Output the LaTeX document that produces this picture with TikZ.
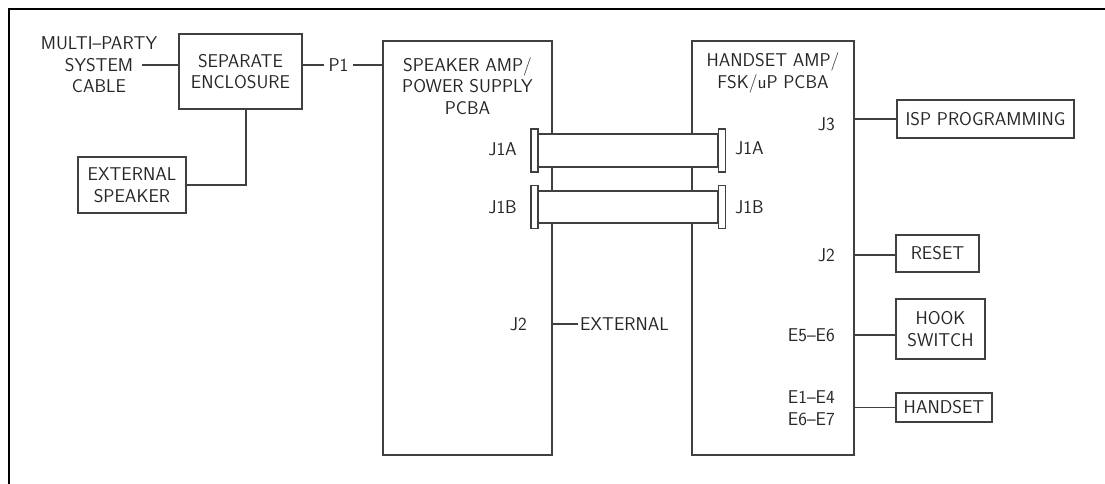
\documentclass[tikz,border=0pt]{standalone}
\usepackage{tikz}
\usetikzlibrary{positioning}

\begin{document}
\begin{tikzpicture}[
		x=1pt, y=-1pt,
		every node/.style={font=\sffamily\fontsize{18.5}{21.5}\selectfont, text=black!85, inner sep=2pt},
		box/.style={draw=black!75, line width=1.1pt, align=center},
		board/.style={draw=black!75, line width=1.1pt, minimum height=414pt},
		capbox/.style={draw=black!75, line width=1.1pt, fill=white, minimum width=7pt, minimum height=43pt, inner sep=0pt},
		ribbon/.style={draw=black!75, line width=1.1pt, fill=white},
		wire/.style={draw=black!75, line width=1.1pt}
	]
	\useasboundingbox (0,0) rectangle (1105,484);
	\draw[line width=2.5pt] (9,484) -- (9,9) -- (1105,9);

	% left side
	\node[align=center] (cable) at (99,65) {MULTI--PARTY\\SYSTEM\\CABLE};
	\coordinate (cableend) at (142,65);
	\node[box, minimum width=123pt, minimum height=75pt] (encl) at (240.5,71.5) {SEPARATE\\ENCLOSURE};
	\node[box, minimum width=108pt, minimum height=56pt] (extspk) at (132,185) {EXTERNAL\\SPEAKER};
	\node[inner sep=4pt] (p1) at (338.5,65) {P1};

	% the two boards
	\node[board, minimum width=169pt] (spk) at (467.5,248) {};
	\node[board, minimum width=162pt] (hs) at (773,248) {};
	\node[align=center] (spktitle) at (467.5,86) {SPEAKER AMP/\\POWER SUPPLY\\PCBA};
	\node[align=center] (hstitle) at (773,73) {HANDSET AMP/\\FSK/uP PCBA};

	% speaker board pins
	\node[anchor=east] (sj1a) at (519,149) {J1A};
	\node[anchor=east] (sj1b) at (519,207) {J1B};
	\node[anchor=east] (sj2) at (529,324) {J2};
	\node[anchor=west] (ext) at (578,324) {EXTERNAL};

	% handset board pins
	\node[anchor=west] (hj1a) at (733,148) {J1A};
	\node[anchor=west] (hj1b) at (733,207) {J1B};
	\node[anchor=east] (hj3) at (837,124) {J3};
	\node[anchor=east] (hj2) at (837,255) {J2};
	\node[anchor=east] (he56) at (837,335) {E5--E6};
	\node[anchor=east, align=right] (he17) at (837,408) {E1--E4\\E6--E7};

	% right side boxes
	\node[box, minimum width=177pt, minimum height=38pt, inner sep=0pt] (isp) at (985.5,119) {ISP PROGRAMMING};
	\node[box, minimum width=83pt, minimum height=37pt] (reset) at (937.5,253.5) {RESET};
	\node[box, minimum width=89pt, minimum height=60pt] (hook) at (940.5,329) {HOOK\\SWITCH};
	\node[box, minimum width=96pt, minimum height=29pt] (hset) at (944,407.5) {HANDSET};

	% ribbon cables
	\node[capbox] (acapl) at (534.5,150.5) {};
	\node[capbox] (acapr) at (722,150.5) {};
	\node[capbox] (bcapl) at (534.5,207) {};
	\node[capbox] (bcapr) at (722,207) {};
	\draw[ribbon] ([yshift=16.5pt]acapl.east) rectangle ([yshift=-16.5pt]acapr.west);
	\draw[ribbon] ([yshift=16pt]bcapl.east) rectangle ([yshift=-16pt]bcapr.west);

	% wiring
	\draw[wire] (cableend) -- (encl.west |- cableend);
	\draw[wire] (encl.east |- p1) -- (p1);
	\draw[wire] (p1) -- (spk.west |- p1);
	\draw[wire] ([xshift=5.5pt]encl.south) |- (extspk.east);
	\draw[wire] (spk.east |- sj2) -- (ext.west);
	\draw[wire] (hs.east |- isp.west) -- (isp.west);
	\draw[wire] (hs.east |- hj2) -- (reset.west |- hj2);
	\draw[wire] (hs.east |- he56) -- (hook.west |- he56);
	\draw[wire] (hs.east |- hset.west) -- (hset.west);
\end{tikzpicture}
\end{document}
